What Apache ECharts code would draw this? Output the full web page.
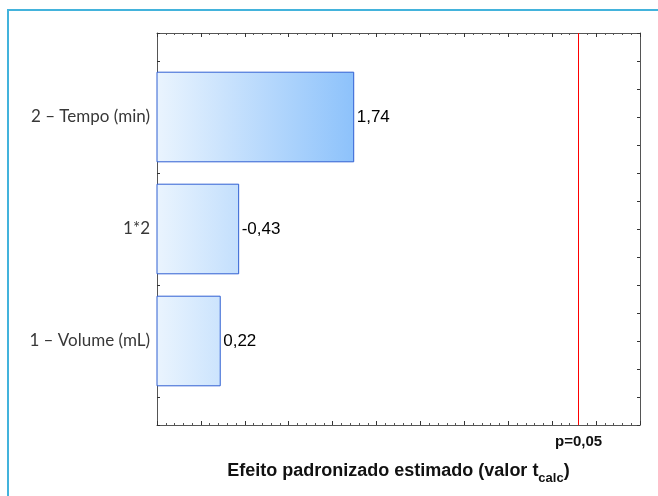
<!DOCTYPE html>
<html>
<head>
<meta charset="utf-8">
<script src="https://cdn.jsdelivr.net/npm/echarts@6/dist/echarts.min.js"></script>
<style>
  html, body { margin: 0; padding: 0; background: #ffffff; }
  #chart { width: 658px; height: 496px; }
</style>
</head>
<body>
<div id="chart"></div>
<script>
// Pareto chart of standardized effects (bars drawn from the axis minimum)
const categories = ['1 – Volume (mL)', '1*2', '2 – Tempo (min)'];
const positions = [1, 2, 3];
const effects = [0.22, -0.43, 1.74];        // signed t values
const tCritical = 4.303;                     // p = 0,05 reference
const xMin = -0.5, xMax = 5;
const yMin = 0.25, yMax = 3.75;
const barThickness = 0.8;

const fmt = v => v.toFixed(2).replace('.', ',');
const maxAbs = Math.max(...effects.map(Math.abs));

const data = effects.map((e, i) => [Math.abs(e), positions[i], e]);

const chart = echarts.init(document.getElementById('chart'), null, { renderer: 'canvas' });

const axisLine = { show: true, onZero: false, lineStyle: { color: '#555555', width: 1 } };

function xAxisDef(position) {
  return {
    type: 'value', position, min: xMin, max: xMax, interval: 0.5,
    axisLine, splitLine: { show: false },
    axisLabel: { show: false },
    axisTick: { show: true, inside: true, length: 4, lineStyle: { color: '#333' } },
    minorTick: { show: true, splitNumber: 5, length: 2, lineStyle: { color: '#555' } },
    minorSplitLine: { show: false }
  };
}
function yAxisDef(position, labels) {
  return {
    type: 'value', position, min: yMin, max: yMax, interval: 0.25,
    axisLine, splitLine: { show: false },
    axisTick: { show: true, inside: true, length: 3, lineStyle: { color: '#333' } },
    axisLabel: labels ? {
      show: true, margin: 7, color: '#383838', fontFamily: 'Lato', fontSize: 17,
      formatter: v => {
        const i = positions.indexOf(v);
        return i >= 0 ? categories[i] : '';
      }
    } : { show: false }
  };
}

const bottomAxis = xAxisDef('bottom');
bottomAxis.name = '{m|Efeito padronizado estimado (valor t}{s|calc}{m|)}';
bottomAxis.nameLocation = 'middle';
bottomAxis.nameGap = 33;
bottomAxis.nameTextStyle = {
  rich: {
    m: { fontFamily: 'Arial, Liberation Sans', fontWeight: 'bold', fontSize: 18, color: '#111', lineHeight: 22, verticalAlign: 'bottom' },
    s: { fontFamily: 'Arial, Liberation Sans', fontWeight: 'bold', fontSize: 13, color: '#111', lineHeight: 22, verticalAlign: 'bottom', padding: [0, 0, -5, 0] }
  }
};

chart.setOption({
  animation: false,
  backgroundColor: '#ffffff',
  grid: { left: 157, right: 18, top: 33, bottom: 71, outerBoundsMode: 'none' },
  graphic: [{
    type: 'polyline', silent: true,
    shape: { points: [[8, 700], [8, 10], [900, 10]] },
    style: { fill: 'none', stroke: '#43b3dc', lineWidth: 2 }
  }],
  xAxis: [bottomAxis, xAxisDef('top')],
  yAxis: [yAxisDef('left', true), yAxisDef('right', false)],
  series: [{
    type: 'custom',
    xAxisIndex: 0, yAxisIndex: 0,
    data,
    encode: { x: 0, y: 1 },
    renderItem: (params, api) => {
      const v = api.value(0), p = api.value(1), signed = api.value(2);
      const start = api.coord([xMin, p]);
      const end = api.coord([v, p]);
      const gradEnd = api.coord([maxAbs, p]);
      const h = api.size([0, barThickness])[1];
      return {
        type: 'group',
        children: [{
          type: 'rect',
          shape: { x: start[0], y: start[1] - h / 2, width: end[0] - start[0], height: h },
          style: {
            fill: new echarts.graphic.LinearGradient(start[0], 0, gradEnd[0], 0, [
              { offset: 0, color: '#eaf4fe' },
              { offset: 1, color: '#8dc2fb' }
            ], true),
            stroke: '#2f5fd2', lineWidth: 1
          }
        }, {
          type: 'text',
          x: end[0] + 3, y: end[1],
          style: {
            text: fmt(signed), fill: '#000000',
            font: '17px Arial, "Liberation Sans"',
            textAlign: 'left', textVerticalAlign: 'middle'
          }
        }]
      };
    },
    markLine: {
      silent: true, symbol: 'none',
      lineStyle: { color: '#ff0000', width: 1, type: 'solid' },
      label: {
        show: true, position: 'start', distance: 9,
        formatter: 'p=0,05', color: '#111',
        fontFamily: 'Arial, Liberation Sans', fontWeight: 'bold', fontSize: 15
      },
      data: [{ xAxis: tCritical }]
    }
  }]
});
</script>
</body>
</html>
